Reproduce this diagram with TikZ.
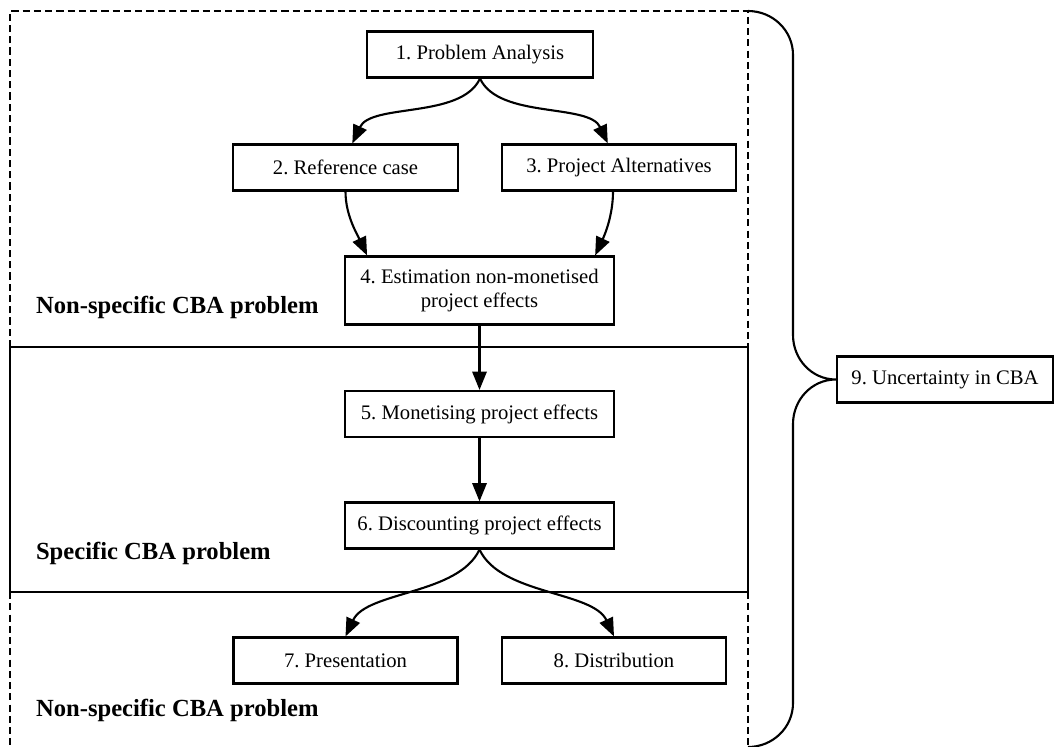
\documentclass[tikz,border=0pt]{standalone}
\usepackage{fontspec}
\setmainfont{Liberation Serif}
\frenchspacing
\usetikzlibrary{arrows.meta, positioning}
\tikzset{
  every picture/.style={line width=1.5pt},
  stage/.style={draw, rectangle, align=center, inner sep=2pt, minimum height=1.15cm, font=\fontsize{14.7}{17.5}\selectfont},
  arrow/.style={-{Triangle[length=4.6mm, width=3.6mm]}, line width=1.5pt},
  region/.style={dash pattern=on 5pt off 3pt, line width=1.5pt},
  tag/.style={anchor=base west, inner sep=0pt, font=\fontsize{17.5}{20}\selectfont\bfseries},
}

\begin{document}
\begin{tikzpicture}[x=0.025cm, y=-0.025cm]
  \useasboundingbox (0,0) rectangle (1056,747);
  % stages
  \node[stage, minimum width=5.65cm] (pa) at (480,54.5) {1. Problem Analysis};
  \node[stage, minimum width=5.625cm] (rc) at (345.5,167.5) {2. Reference case};
  \node[stage, minimum width=5.85cm] (alt) at (619,167.5) {3. Project Alternatives};
  \node[stage, minimum width=6.725cm, minimum height=1.7cm] (est) at (479.5,290.5) {4. Estimation non-monetised\\project effects};
  \node[stage, minimum width=6.725cm] (mon) at (479.5,414) {5. Monetising project effects};
  \node[stage, minimum width=6.725cm] (disc) at (479.5,525.5) {6. Discounting project effects};
  \node[stage, minimum width=5.6cm] (pres) at (345.5,660.5) {7. Presentation};
  \node[stage, minimum width=5.6cm] (dist) at (614,660.5) {8. Distribution};
  \node[stage, minimum width=5.4cm] (unc) at (945,379.5) {9. Uncertainty in CBA};
  % regions
  \coordinate (tl) at (10,11); \coordinate (tr) at (748,11);
  \coordinate (ml) at (10,347); \coordinate (mr) at (748,347);
  \coordinate (nl) at (10,592); \coordinate (nr) at (748,592);
  \coordinate (bl) at (10,747); \coordinate (br) at (748,747);
  \draw[region] (ml) -- (tl) -- (tr) -- (mr);
  \draw (ml) rectangle (nr);
  \draw[region] (nl) -- (bl);
  \draw[region] (nr) -- (br);
  \node[tag] (lab1) at (35,313) {Non-specific CBA problem};
  \node[tag] (lab2) at (35,559) {Specific CBA problem};
  \node[tag] (lab3) at (35,716) {Non-specific CBA problem};
  % flow
  \draw[arrow] (pa.south) to[out=-115, in=65, looseness=0.8] ([xshift=0.17cm]rc.north);
  \draw[arrow] (pa.south) to[out=-65, in=115, looseness=0.8] ([xshift=-0.28cm]alt.north);
  \draw[arrow] (rc.south) to[out=-90, in=115, looseness=0.9] ([xshift=-2.81cm]est.north);
  \draw[arrow] ([xshift=-0.15cm]alt.south) to[out=-90, in=65, looseness=0.9] ([xshift=2.89cm]est.north);
  \draw[arrow] (est) -- (mon);
  \draw[arrow] (mon) -- (disc);
  \draw[arrow] (disc.south) to[out=-115, in=65, looseness=0.8] (pres.north);
  \draw[arrow] (disc.south) to[out=-65, in=115, looseness=0.8] (dist.north);
  % brace
  \draw (tr) to[out=0, in=90] (793,55) -- (793,335) to[out=-90, in=180] (unc.west)
    to[out=180, in=90] (793,424) -- (793,703) to[out=-90, in=0] (br);
\end{tikzpicture}
\end{document}
